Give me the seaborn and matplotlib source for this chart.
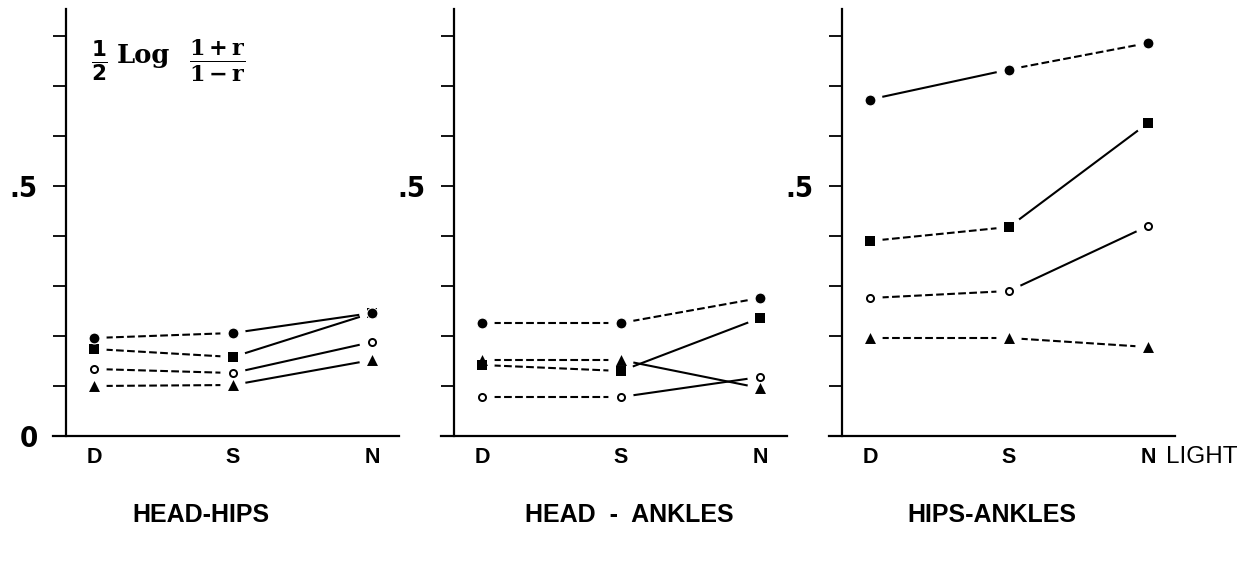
import matplotlib
matplotlib.use("Agg")
import matplotlib.pyplot as plt
import pandas as pd
import seaborn as sns

# light conditions on the x axis
conditions = ["D", "S", "N"]
panel_titles = ["HEAD-HIPS", "HEAD  -  ANKLES", "HIPS-ANKLES"]

# z-transformed correlations
head_hips_filled_circle = [0.196, 0.206, 0.246]
head_hips_square = [0.174, 0.158, 0.246]
head_hips_open_circle = [0.134, 0.126, 0.188]
head_hips_triangle = [0.100, 0.102, 0.152]

head_ankles_filled_circle = [0.226, 0.226, 0.276]
head_ankles_square = [0.142, 0.130, 0.236]
head_ankles_open_circle = [0.078, 0.078, 0.118]
head_ankles_triangle = [0.152, 0.152, 0.096]

hips_ankles_filled_circle = [0.673, 0.733, 0.786]
hips_ankles_square = [0.390, 0.418, 0.626]
hips_ankles_open_circle = [0.276, 0.290, 0.420]
hips_ankles_triangle = [0.196, 0.196, 0.178]

# line style of the D-S and S-N segments
head_hips_styles = {"square": ("--", "-"), "filled_circle": ("--", "-"),
                    "open_circle": ("--", "-"), "triangle": ("--", "-")}
head_ankles_styles = {"square": ("--", "-"), "filled_circle": ("--", "--"),
                      "open_circle": ("--", "-"), "triangle": ("--", "-")}
hips_ankles_styles = {"square": ("--", "-"), "filled_circle": ("-", "--"),
                      "open_circle": ("--", "-"), "triangle": ("--", "--")}

panels = [
    {"square": head_hips_square, "filled_circle": head_hips_filled_circle,
     "open_circle": head_hips_open_circle, "triangle": head_hips_triangle},
    {"square": head_ankles_square, "filled_circle": head_ankles_filled_circle,
     "open_circle": head_ankles_open_circle, "triangle": head_ankles_triangle},
    {"square": hips_ankles_square, "filled_circle": hips_ankles_filled_circle,
     "open_circle": hips_ankles_open_circle, "triangle": hips_ankles_triangle},
]
panel_styles = [head_hips_styles, head_ankles_styles, hips_ankles_styles]

marker_kw = {
    "square": dict(marker="s", s=48, color="black", edgecolor="black", linewidth=0),
    "filled_circle": dict(marker="o", s=62, color="black", edgecolor="white", linewidth=0.8),
    "open_circle": dict(marker="o", s=26, color="white", edgecolor="black", linewidth=1.4),
    "triangle": dict(marker="^", s=62, color="black", edgecolor="black", linewidth=0),
}

sns.set_style("white")
plt.rcParams["font.family"] = ["Liberation Sans", "DejaVu Sans"]
plt.rcParams["text.color"] = "black"
plt.rcParams["xtick.color"] = "black"
plt.rcParams["ytick.color"] = "black"
plt.rcParams["mathtext.fontset"] = "dejavusans"

W, H = 1252, 582
fig = plt.figure(figsize=(W / 100, H / 100), dpi=100)

step = 139.0  # px per category
d_positions = [94, 482, 870]
axis_y0, axis_top = 436, 9

for i, (series, styles) in enumerate(zip(panels, panel_styles)):
    left_px = d_positions[i] - 41
    ax = fig.add_axes([left_px / W, 1 - axis_y0 / H, 346 / W, (axis_y0 - axis_top) / H])
    x = list(range(len(conditions)))

    # connecting segments
    for name, values in series.items():
        for k in range(len(conditions) - 1):
            seg = pd.DataFrame({"x": x[k:k + 2], "y": values[k:k + 2]})
            sns.lineplot(data=seg, x="x", y="y", ax=ax, color="black",
                         linewidth=1.5, linestyle=styles[name][k],
                         dashes=False if styles[name][k] == "-" else (6.5, 4),
                         zorder=1)
    # white halos keep a gap between the lines and the points
    for name, values in series.items():
        sns.scatterplot(x=x, y=values, ax=ax, marker="o", s=330, color="white",
                        edgecolor="none", zorder=2)
    for name, values in series.items():
        sns.scatterplot(x=x, y=values, ax=ax, zorder=3, **marker_kw[name])

    ax.set_xlim(-41 / step, 2 + 27 / step)
    ax.set_ylim(0, (axis_y0 - axis_top) / 500)
    ax.spines["top"].set_visible(False)
    ax.spines["right"].set_visible(False)
    ax.spines["left"].set_position(("data", -28 / step))
    for sp in ("left", "bottom"):
        ax.spines[sp].set_linewidth(1.6)
        ax.spines[sp].set_color("black")

    yt = [t / 10 for t in range(9)]
    ax.set_yticks(yt)
    labels = ["" for _ in yt]
    labels[5] = ".5"
    if i == 0:
        labels[0] = "0"
    ax.set_yticklabels(labels, fontfamily="DejaVu Sans", fontstretch="condensed",
                       fontweight="bold", fontsize=21)
    ax.tick_params(axis="y", left=True, direction="out", length=9.5, width=1.3,
                   pad=11, colors="black")

    ax.set_xticks(x)
    ax.set_xticklabels(conditions, fontweight="bold", fontsize=15.5)
    ax.tick_params(axis="x", bottom=True, length=0, pad=8)
    ax.set_xlabel("")
    ax.set_ylabel("")
    ax.grid(False)

title_x = [201, 629, 992]
for tx, title in zip(title_x, panel_titles):
    fig.text(tx / W, 1 - 515 / H, title, ha="center", va="center",
             fontsize=18, fontweight="bold")

fig.text(1166 / W, 1 - 457 / H, "LIGHT", ha="left", va="center", fontsize=17.5)

# 1/2 Log (1+r)/(1-r) label in the first panel
fig.text(91 / W, 1 - 61 / H, r"$\frac{\mathbf{1}}{\mathbf{2}}$",
         ha="left", va="center", fontsize=22)
fig.text(117 / W, 1 - 56 / H, "Log", ha="left", va="center",
         fontsize=18.5, fontweight="bold", fontfamily="DejaVu Serif")
fig.text(189 / W, 1 - 61 / H, r"$\frac{\mathbf{1+r}}{\mathbf{1-r}}$",
         ha="left", va="center", fontsize=23, math_fontfamily="dejavuserif")

fig.savefig("out.png", dpi=100)
